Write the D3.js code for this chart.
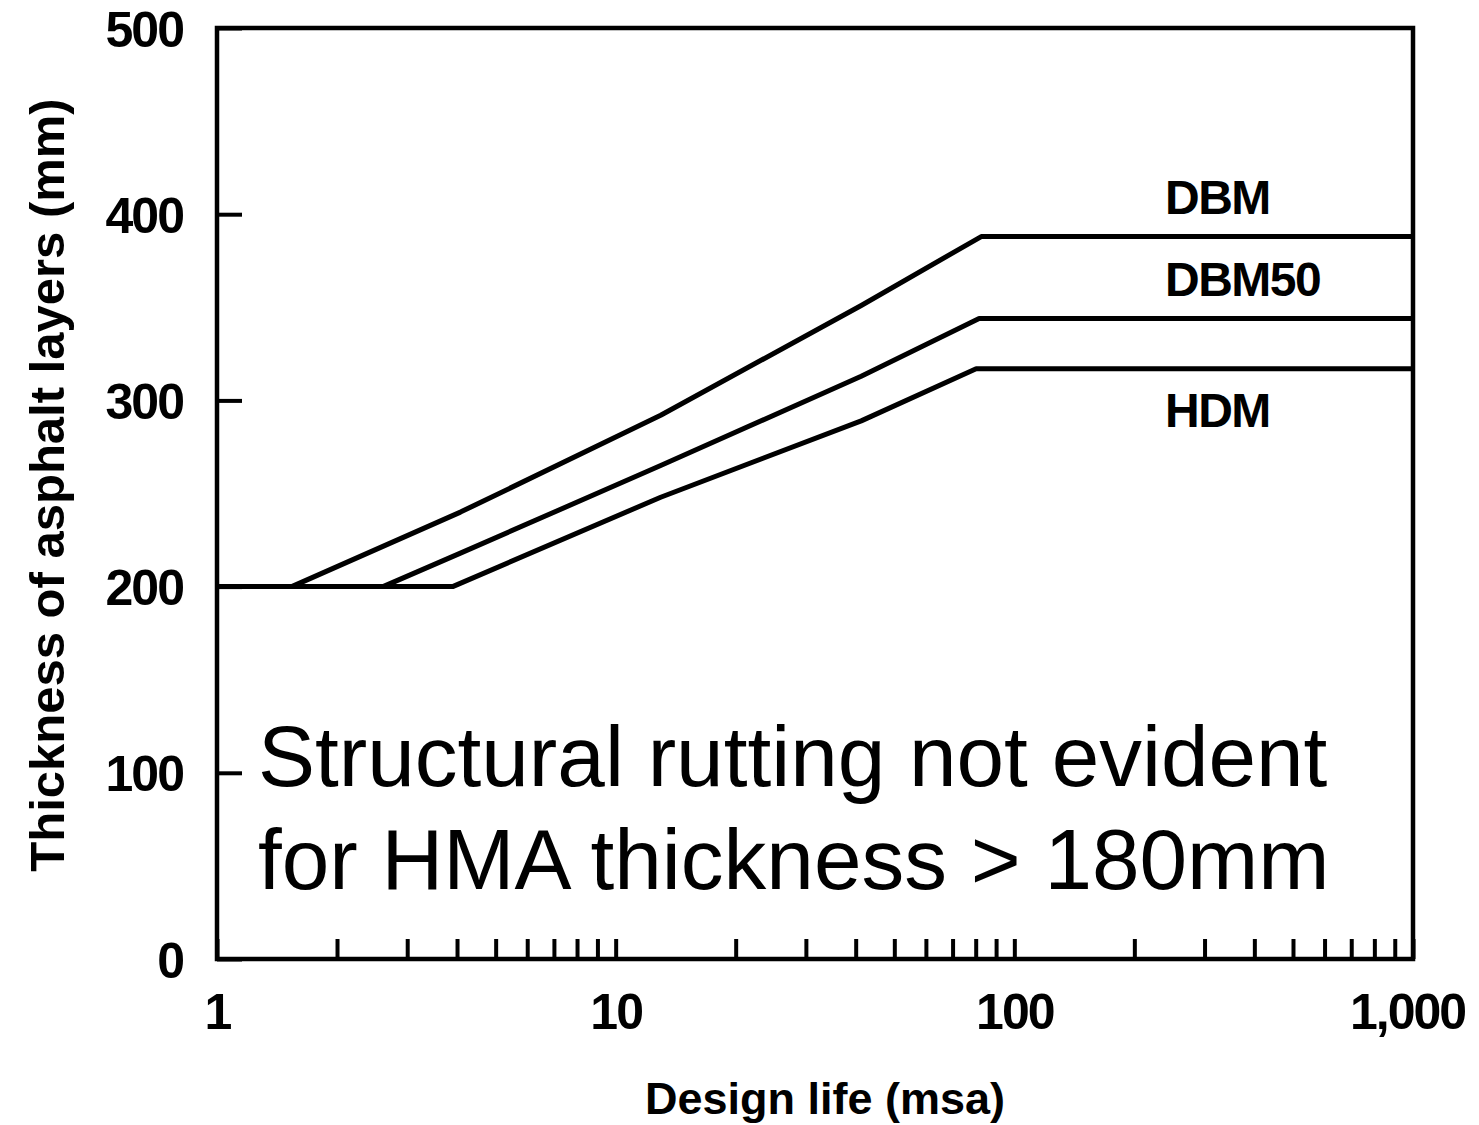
<!DOCTYPE html>
<html>
<head>
<meta charset="utf-8">
<script src="https://d3js.org/d3.v7.min.js"></script>
<title>Asphalt thickness vs design life</title>
<style>
    body { margin: 0; background: #fff; }
    text { font-family: "Liberation Sans", Arial, sans-serif; fill: #000; }
</style>
</head>
<body>
<svg id="chart" width="1479" height="1125"></svg>
<script>
    // design life (msa), thickness (mm)
    var dbmLife   = [1, 1.54, 4.08, 12.97, 41.3, 82.6, 1000];
    var dbmThick  = [200, 200, 240, 292, 351, 388, 388];
    var dbm50Life  = [1, 2.61, 4.08, 12.97, 41.3, 81.6, 1000];
    var dbm50Thick = [200, 200, 218, 265, 313, 344, 344];
    var hdmLife   = [1, 3.9, 12.97, 41.3, 80.2, 1000];
    var hdmThick  = [200, 200, 248, 289, 317, 317];

    var seriesNames = ["DBM", "DBM50", "HDM"];
    var labelThick = [409, 365, 295];   // where the curve names sit (mm)

    var yTicks = [0, 100, 200, 300, 400, 500];
    var xTicks = [1, 10, 100, 1000];
    var xTickLabels = ["1", "10", "100", "1,000"];
    var minorTicks = [2, 3, 4, 5, 6, 7, 8, 9, 20, 30, 40, 50, 60, 70, 80, 90,
                      200, 300, 400, 500, 600, 700, 800, 900];

    var noteLines = ["Structural rutting not evident", "for HMA thickness > 180mm"];

    var svg = d3.select("#chart");

    var x = d3.scaleLog().domain([1, 1000]).range([217, 1413]);
    var y = d3.scaleLinear().domain([0, 500]).range([959, 28]);

    function zip(a, b) {
        return a.map(function (v, i) { return {life: v, thick: b[i]}; });
    }
    var series = [zip(dbmLife, dbmThick), zip(dbm50Life, dbm50Thick), zip(hdmLife, hdmThick)];

    // left axis, ticks pointing into the plot
    var yAxis = d3.axisLeft(y).tickValues(yTicks).tickSize(-25).tickPadding(34);
    var gy = svg.append("g").attr("transform", "translate(217,0)").call(yAxis);
    gy.select(".domain").remove();
    gy.selectAll("line").attr("stroke", "#000").attr("stroke-width", 4);
    gy.selectAll("text")
        .attr("font-size", 50).attr("font-weight", "bold")
        .attr("letter-spacing", -2).attr("dy", "0.36em");

    // bottom axis, major labels
    var xAxis = d3.axisBottom(x).tickValues(xTicks)
        .tickFormat(function (d, i) { return xTickLabels[i]; })
        .tickSize(-20).tickPadding(34);
    var gx = svg.append("g").attr("transform", "translate(0,959)").call(xAxis);
    gx.select(".domain").remove();
    gx.selectAll("line").attr("stroke", "#000").attr("stroke-width", 4);
    gx.selectAll("text")
        .attr("font-size", 50).attr("font-weight", "bold").attr("letter-spacing", -2);
    gx.selectAll(".tick").filter(function (d) { return d === 1000; })
        .select("text").attr("dx", -6);

    // minor ticks
    var minorAxis = d3.axisBottom(x).tickValues(minorTicks).tickSize(-20).tickFormat("");
    var gm = svg.append("g").attr("transform", "translate(0,959)").call(minorAxis);
    gm.select(".domain").remove();
    gm.selectAll("line").attr("stroke", "#000").attr("stroke-width", 4);

    // frame
    svg.append("rect")
        .attr("x", x(1)).attr("y", y(500))
        .attr("width", x(1000) - x(1)).attr("height", y(0) - y(500))
        .attr("fill", "none").attr("stroke", "#000").attr("stroke-width", 4.5);

    var line = d3.line()
        .x(function (d) { return x(d.life); })
        .y(function (d) { return y(d.thick); });

    svg.selectAll("path.curve")
        .data(series)
        .enter().append("path")
        .attr("class", "curve")
        .attr("d", line)
        .attr("fill", "none")
        .attr("stroke", "#000")
        .attr("stroke-width", 5)
        .attr("stroke-linejoin", "round");

    svg.selectAll("text.curve-name")
        .data(seriesNames)
        .enter().append("text")
        .attr("class", "curve-name")
        .attr("x", 1165)
        .attr("y", function (d, i) { return y(labelThick[i]) + 17; })
        .attr("font-size", 48).attr("font-weight", "bold").attr("letter-spacing", -1.5)
        .text(function (d) { return d; });

    // axis titles
    svg.append("text")
        .attr("x", 825).attr("y", 1114)
        .attr("text-anchor", "middle")
        .attr("font-size", 45).attr("font-weight", "bold")
        .text("Design life (msa)");

    svg.append("text")
        .attr("transform", "translate(64,485) rotate(-90)")
        .attr("text-anchor", "middle")
        .attr("font-size", 49).attr("font-weight", "bold")
        .text("Thickness of asphalt layers (mm)");

    // note
    svg.selectAll("text.note")
        .data(noteLines)
        .enter().append("text")
        .attr("class", "note")
        .attr("x", 258)
        .attr("y", function (d, i) { return 786 + i * 103; })
        .attr("font-size", 85.5)
        .text(function (d) { return d; });
</script>
</body>
</html>
